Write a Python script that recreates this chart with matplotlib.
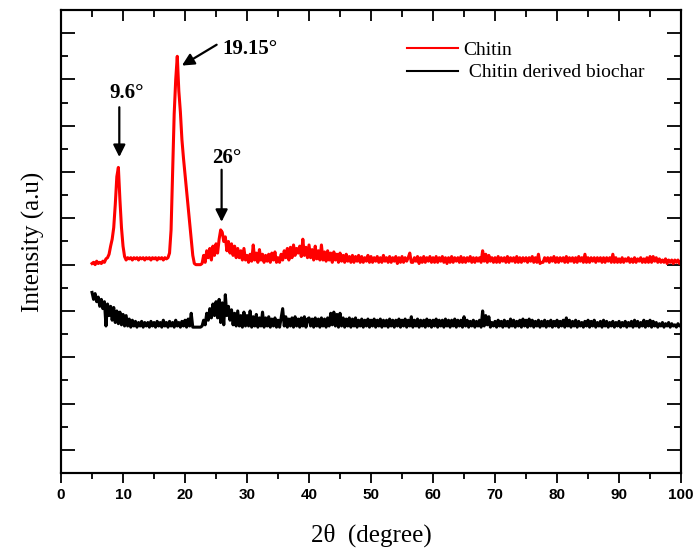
import numpy as np
import matplotlib
matplotlib.use('Agg')
import matplotlib.pyplot as plt
from matplotlib.ticker import MultipleLocator

# 2-theta grid of the scans (5 to 100 degree, 0.25 degree step)
two_theta = np.arange(5.0, 100.001, 0.25)

# Chitin intensity above its baseline (arbitrary units), rows of 5 degrees
chitin = [
    0.05, 0.1, 0.0, 0.15, 0.05, 0.1, 0.05, 0.15, 0.1, 0.25, 0.3, 0.45, 0.8, 1.1, 1.6, 2.6, 3.8, 4.2, 2.8, 1.6,
    0.8, 0.35, 0.2, 0.3, 0.25, 0.3, 0.2, 0.3, 0.25, 0.3, 0.2, 0.3, 0.25, 0.3, 0.2, 0.3, 0.25, 0.3, 0.2, 0.3,
    0.25, 0.3, 0.2, 0.3, 0.25, 0.3, 0.2, 0.3, 0.25, 0.3, 0.5, 1.5, 4.0, 6.5, 8.0, 9.0, 7.5, 6.6, 5.4, 4.6,
    3.9, 3.2, 2.5, 1.8, 1.1, 0.4, 0.05, 0.0, 0.0, 0.0, 0.0, 0.05, 0.4, 0.1, 0.6, 0.3, 0.7, 0.2, 0.8, 0.4,
    0.9, 0.5, 1.1, 1.5, 1.4, 1.0, 1.2, 0.6, 1.0, 0.5, 0.9, 0.4, 0.8, 0.3, 0.7, 0.3, 0.6, 0.2, 0.7, 0.2,
    0.4, 0.1, 0.45, 0.15, 0.85, 0.2, 0.5, 0.1, 0.65, 0.2, 0.45, 0.1, 0.4, 0.15, 0.45, 0.1, 0.5, 0.2, 0.55, 0.1,
    0.3, 0.1, 0.45, 0.2, 0.6, 0.3, 0.7, 0.2, 0.75, 0.3, 0.85, 0.4, 0.7, 0.5, 0.8, 0.35, 1.1, 0.4, 0.75, 0.3,
    0.85, 0.3, 0.65, 0.2, 0.8, 0.25, 0.6, 0.2, 0.85, 0.2, 0.55, 0.15, 0.6, 0.2, 0.5, 0.1, 0.55, 0.2, 0.45, 0.1,
    0.5, 0.15, 0.4, 0.1, 0.45, 0.15, 0.35, 0.1, 0.4, 0.1, 0.35, 0.15, 0.4, 0.1, 0.35, 0.1, 0.3, 0.15, 0.4, 0.1,
    0.35, 0.1, 0.3, 0.15, 0.35, 0.1, 0.3, 0.1, 0.4, 0.15, 0.3, 0.1, 0.35, 0.1, 0.3, 0.15, 0.35, 0.05, 0.3, 0.1,
    0.35, 0.1, 0.3, 0.15, 0.3, 0.5, 0.1, 0.1, 0.3, 0.15, 0.35, 0.05, 0.3, 0.1, 0.35, 0.1, 0.3, 0.15, 0.35, 0.1,
    0.3, 0.1, 0.35, 0.1, 0.3, 0.15, 0.35, 0.1, 0.3, 0.05, 0.3, 0.1, 0.35, 0.1, 0.3, 0.15, 0.3, 0.1, 0.35, 0.1,
    0.3, 0.1, 0.3, 0.15, 0.35, 0.1, 0.3, 0.1, 0.3, 0.15, 0.3, 0.1, 0.6, 0.15, 0.45, 0.1, 0.4, 0.15, 0.3, 0.1,
    0.3, 0.1, 0.35, 0.1, 0.3, 0.15, 0.3, 0.1, 0.35, 0.1, 0.3, 0.15, 0.3, 0.1, 0.35, 0.1, 0.3, 0.1, 0.3, 0.15,
    0.3, 0.1, 0.3, 0.15, 0.35, 0.1, 0.3, 0.1, 0.45, 0.05, 0.1, 0.1, 0.3, 0.15, 0.3, 0.1, 0.3, 0.15, 0.35, 0.1,
    0.3, 0.1, 0.3, 0.15, 0.3, 0.1, 0.35, 0.1, 0.3, 0.15, 0.3, 0.1, 0.3, 0.1, 0.35, 0.15, 0.3, 0.1, 0.45, 0.1,
    0.3, 0.1, 0.3, 0.15, 0.3, 0.1, 0.3, 0.15, 0.3, 0.1, 0.3, 0.1, 0.3, 0.15, 0.3, 0.1, 0.45, 0.1, 0.3, 0.1,
    0.25, 0.1, 0.3, 0.1, 0.25, 0.15, 0.3, 0.1, 0.25, 0.1, 0.3, 0.1, 0.25, 0.15, 0.3, 0.1, 0.25, 0.1, 0.3, 0.1,
    0.35, 0.1, 0.35, 0.15, 0.3, 0.1, 0.25, 0.1, 0.2, 0.1, 0.25, 0.05, 0.2, 0.1, 0.2, 0.05, 0.2, 0.1, 0.2, 0.05,
    0.15,
]

# Chitin derived biochar intensity above its baseline
biochar = [
    1.5, 1.2, 1.45, 1.1, 1.3, 0.9, 1.2, 0.8, 1.1, 0.05, 1.0, 0.5, 0.9, 0.3, 0.85, 0.2, 0.7, 0.15, 0.65, 0.1,
    0.55, 0.05, 0.5, 0.05, 0.35, 0.0, 0.3, 0.05, 0.25, 0.0, 0.2, 0.05, 0.25, 0.0, 0.2, 0.05, 0.2, 0.0, 0.25, 0.05,
    0.2, 0.0, 0.25, 0.05, 0.2, 0.0, 0.3, 0.05, 0.2, 0.0, 0.25, 0.05, 0.2, 0.0, 0.3, 0.05, 0.2, 0.0, 0.25, 0.05,
    0.3, 0.0, 0.35, 0.05, 0.6, 0.0, 0.0, 0.0, 0.0, 0.0, 0.0, 0.05, 0.3, 0.1, 0.6, 0.3, 0.8, 0.4, 1.0, 0.5,
    1.1, 0.4, 1.2, 0.2, 1.05, 0.1, 1.4, 0.5, 0.9, 0.3, 0.75, 0.1, 0.6, 0.05, 0.7, 0.05, 0.5, 0.0, 0.65, 0.05,
    0.5, 0.05, 0.7, 0.0, 0.45, 0.05, 0.55, 0.0, 0.4, 0.05, 0.65, 0.0, 0.4, 0.05, 0.45, 0.0, 0.35, 0.05, 0.4, 0.0,
    0.3, 0.0, 0.4, 0.8, 0.05, 0.45, 0.0, 0.35, 0.05, 0.4, 0.0, 0.45, 0.05, 0.35, 0.0, 0.4, 0.05, 0.45, 0.0, 0.35,
    0.4, 0.05, 0.35, 0.0, 0.4, 0.05, 0.35, 0.0, 0.4, 0.05, 0.35, 0.0, 0.4, 0.05, 0.6, 0.1, 0.65, 0.05, 0.55, 0.0,
    0.6, 0.05, 0.4, 0.0, 0.35, 0.05, 0.4, 0.0, 0.35, 0.05, 0.4, 0.0, 0.3, 0.05, 0.35, 0.0, 0.3, 0.05, 0.35, 0.0,
    0.3, 0.05, 0.35, 0.0, 0.3, 0.05, 0.35, 0.0, 0.3, 0.05, 0.3, 0.0, 0.35, 0.05, 0.3, 0.0, 0.3, 0.05, 0.35, 0.0,
    0.3, 0.05, 0.35, 0.0, 0.3, 0.05, 0.45, 0.0, 0.3, 0.05, 0.35, 0.0, 0.3, 0.05, 0.3, 0.0, 0.35, 0.05, 0.3, 0.0,
    0.3, 0.05, 0.35, 0.0, 0.3, 0.05, 0.3, 0.0, 0.35, 0.05, 0.3, 0.0, 0.3, 0.05, 0.35, 0.0, 0.3, 0.05, 0.3, 0.0,
    0.45, 0.05, 0.3, 0.0, 0.25, 0.05, 0.3, 0.0, 0.25, 0.05, 0.3, 0.0, 0.7, 0.05, 0.5, 0.1, 0.45, 0.0, 0.2, 0.05,
    0.25, 0.0, 0.3, 0.05, 0.25, 0.0, 0.3, 0.05, 0.25, 0.0, 0.35, 0.05, 0.3, 0.0, 0.25, 0.05, 0.3, 0.0, 0.35, 0.05,
    0.3, 0.0, 0.35, 0.05, 0.3, 0.0, 0.25, 0.05, 0.3, 0.0, 0.25, 0.05, 0.3, 0.0, 0.25, 0.05, 0.3, 0.0, 0.25, 0.05,
    0.3, 0.0, 0.25, 0.05, 0.3, 0.0, 0.4, 0.05, 0.3, 0.0, 0.25, 0.05, 0.3, 0.0, 0.25, 0.05, 0.2, 0.0, 0.25, 0.05,
    0.3, 0.0, 0.25, 0.05, 0.3, 0.0, 0.2, 0.05, 0.25, 0.0, 0.3, 0.05, 0.25, 0.0, 0.2, 0.05, 0.25, 0.0, 0.2, 0.05,
    0.25, 0.0, 0.2, 0.05, 0.25, 0.0, 0.2, 0.05, 0.25, 0.0, 0.3, 0.05, 0.25, 0.0, 0.2, 0.05, 0.3, 0.0, 0.25, 0.05,
    0.3, 0.0, 0.25, 0.05, 0.2, 0.0, 0.15, 0.05, 0.2, 0.0, 0.15, 0.05, 0.2, 0.0, 0.15, 0.05, 0.1, 0.0, 0.15, 0.05,
    0.1,
]

# vertical offsets used to stack the patterns
chitin_offset = 9.0
biochar_offset = 6.3

# peak labels: (text, arrow tail, arrow tip, text position)
peaks = [
    ('9.6°', (9.4, 15.8), (9.4, 13.65), (7.8, 16.2)),
    ('19.15°', (25.1, 18.5), (19.5, 17.6), (26.1, 18.1)),
    ('26°', (25.9, 13.1), (25.9, 10.85), (24.4, 13.4)),
]

serif = ['Liberation Serif', 'DejaVu Serif']

fig = plt.figure(figsize=(6.99, 5.56), dpi=100)
ax = fig.add_axes([0.0873, 0.1493, 0.887, 0.8327])

ax.plot(two_theta, chitin_offset + np.array(chitin), color='#ff0000', lw=2.2, label='Chitin')
ax.plot(two_theta, biochar_offset + np.array(biochar), color='black', lw=2.2,
        label=' Chitin derived biochar')

for txt, tail, tip, pos in peaks:
    ax.annotate('', xy=tip, xytext=tail,
                arrowprops=dict(arrowstyle='-|>', color='black', lw=1.6, mutation_scale=18,
                                shrinkA=0, shrinkB=0))
    ax.text(pos[0], pos[1], txt, fontsize=15, fontweight='bold', family=serif,
            ha='left', va='baseline')

ax.set_xlim(0, 100)
ax.set_ylim(0, 20)
ax.xaxis.set_major_locator(MultipleLocator(10))
ax.xaxis.set_minor_locator(MultipleLocator(5))
ax.set_yticks(np.arange(1, 20, 2))
ax.set_yticks(np.arange(2, 20, 2), minor=True)
ax.set_yticklabels([])

ax.tick_params(axis='x', which='both', direction='out', bottom=True, top=False, width=1.3)
ax.tick_params(axis='x', which='major', length=7)
ax.tick_params(axis='x', which='minor', length=4)
ax.tick_params(axis='y', which='both', direction='in', left=True, right=True, width=1.3)
ax.tick_params(axis='y', which='major', length=10)
ax.tick_params(axis='y', which='minor', length=5)

# top ticks pointing inward
top = ax.twiny()
top.set_xlim(ax.get_xlim())
top.xaxis.set_major_locator(MultipleLocator(10))
top.xaxis.set_minor_locator(MultipleLocator(5))
top.tick_params(axis='x', which='both', direction='in', width=1.3, top=True,
                labeltop=False, bottom=False, labelbottom=False)
top.tick_params(axis='x', which='major', length=8)
top.tick_params(axis='x', which='minor', length=5)
top.tick_params(axis='y', which='both', left=False, right=False,
                labelleft=False, labelright=False)

for lab in ax.get_xticklabels():
    lab.set_family(['Liberation Sans', 'DejaVu Sans'])
    lab.set_fontweight('bold')
    lab.set_fontsize(11)

for a in (ax, top):
    for s in a.spines.values():
        s.set_linewidth(1.5)

ax.set_xlabel('2θ  (degree)', fontsize=18, family=serif, labelpad=16)
ax.set_ylabel('Intensity (a.u)', fontsize=18, family=serif, labelpad=8)

leg = ax.legend(loc='upper left', bbox_to_anchor=(0.53, 0.97), frameon=False,
                prop={'family': serif, 'size': 14}, handlelength=2.6,
                handletextpad=0.3, labelspacing=0.25)
for h in leg.get_lines():
    h.set_linewidth(1.5)

fig.savefig('out.png', dpi=100)
